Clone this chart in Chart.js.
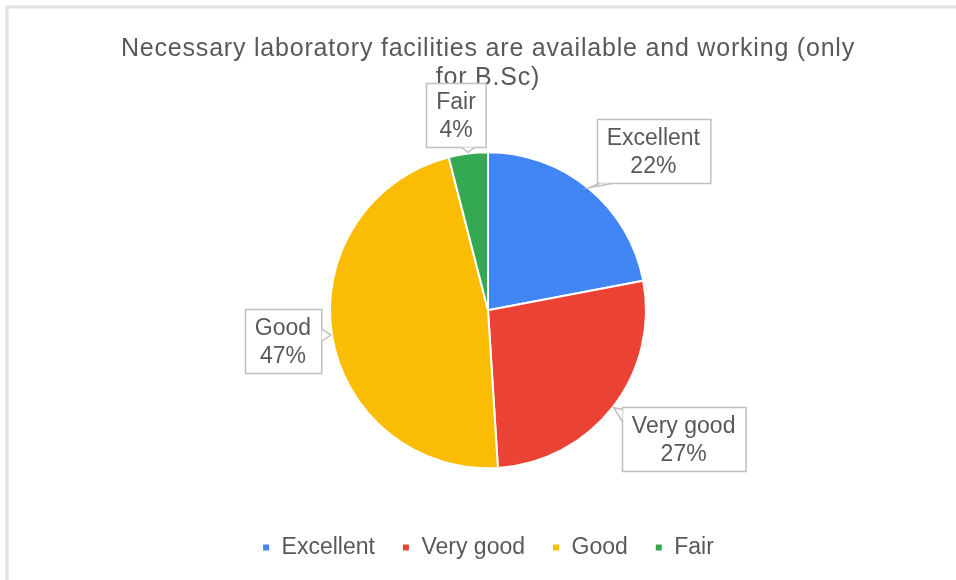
<!DOCTYPE html>
<html>
<head>
<meta charset="utf-8">
<title>Laboratory facilities</title>
<script src="https://cdn.jsdelivr.net/npm/chart.js@4"></script>
<style>
  html, body { margin: 0; padding: 0; background: #fff; }
  #wrap { width: 956px; height: 580px; position: relative; }
</style>
</head>
<body>
<div id="wrap"><canvas id="pie" width="956" height="580"></canvas></div>
<script>
const categories = ['Excellent', 'Very good', 'Good', 'Fair'];
const shares = [22, 27, 47, 4];
const sliceColors = ['#4285F4', '#EA4335', '#FBBC04', '#34A853'];
const titleLines = ['Necessary laboratory facilities are available and working (only', 'for B.Sc)'];

// where each callout box sits, relative to the slice edge point
const calloutOffsets = [[64, -37], [70, 31], [-48, 6], [-12, -38]];

const textColor = '#595959';
const fontFamily = '"Liberation Sans", Arial, sans-serif';

// light frame round the chart, like the screenshot
const framePlugin = {
    id: 'frame',
    beforeDraw(chart) {
        const ctx = chart.ctx;
        ctx.save();
        ctx.fillStyle = '#ffffff';
        ctx.fillRect(0, 0, chart.width, chart.height);
        ctx.strokeStyle = '#e2e2e2';
        ctx.lineWidth = 3;
        ctx.beginPath();
        ctx.moveTo(7, chart.height + 5);
        ctx.lineTo(7, 7);
        ctx.lineTo(chart.width + 5, 7);
        ctx.stroke();
        ctx.restore();

        // the title in the picture is set a little wider than the font
        const tb = chart.titleBlock;
        if (tb && !tb._spaced) {
            const orig = tb.draw.bind(tb);
            tb.draw = function () {
                chart.ctx.save();
                chart.ctx.letterSpacing = '0.8px';
                orig();
                chart.ctx.restore();
            };
            tb._spaced = true;
        }
    }
};

// Excel-style data callouts: name + percent in a box with a small pointer
const calloutPlugin = {
    id: 'callouts',
    afterDatasetsDraw(chart) {
        const ctx = chart.ctx;
        const meta = chart.getDatasetMeta(0);
        const total = shares.reduce((a, b) => a + b, 0);
        const lineH = 28;
        ctx.save();
        ctx.font = '23px ' + fontFamily;
        ctx.textAlign = 'center';
        ctx.textBaseline = 'middle';

        meta.data.forEach((arc, i) => {
            const p = arc.getProps(['x', 'y', 'startAngle', 'endAngle', 'outerRadius'], true);
            const mid = (p.startAngle + p.endAngle) / 2;
            const ax = p.x + Math.cos(mid) * (p.outerRadius + 1);
            const ay = p.y + Math.sin(mid) * (p.outerRadius + 1);

            const lines = [categories[i], Math.round(shares[i] / total * 100) + '%'];
            const w = Math.max(...lines.map(t => ctx.measureText(t).width)) + 20;
            const h = lines.length * lineH + 8;
            const cx = ax + calloutOffsets[i][0];
            const cy = ay + calloutOffsets[i][1];
            const left = Math.round(cx - w / 2) + 0.5, top = Math.round(cy - h / 2) + 0.5;
            const right = left + w, bottom = top + h;

            ctx.fillStyle = '#ffffff';
            ctx.fillRect(left, top, w, h);
            ctx.strokeStyle = '#bfbfbf';
            ctx.lineWidth = 1.5;
            ctx.strokeRect(left, top, w, h);

            // pointer from the nearest box edge to the slice
            let b1, b2;
            const half = 6;
            if (ay > bottom || ay < top) {
                const ey = ay > bottom ? bottom : top;
                const ex = Math.min(Math.max(ax, left + half + 2), right - half - 2);
                b1 = [ex - half, ey]; b2 = [ex + half, ey];
            } else {
                const ex = ax < left ? left : right;
                const ey = Math.min(Math.max(ay, top + half + 2), bottom - half - 2);
                b1 = [ex, ey - half]; b2 = [ex, ey + half];
            }
            ctx.beginPath();
            ctx.moveTo(b1[0], b1[1]);
            ctx.lineTo(ax, ay);
            ctx.lineTo(b2[0], b2[1]);
            ctx.closePath();
            ctx.fillStyle = '#ffffff';
            ctx.fill();
            ctx.beginPath();
            ctx.moveTo(b1[0], b1[1]);
            ctx.lineTo(ax, ay);
            ctx.lineTo(b2[0], b2[1]);
            ctx.stroke();

            ctx.fillStyle = textColor;
            lines.forEach((t, k) => {
                ctx.fillText(t, cx, top + 4 + lineH * k + lineH / 2 + 1);
            });
        });
        ctx.restore();
    }
};

new Chart(document.getElementById('pie'), {
    type: 'pie',
    data: {
        labels: categories,
        datasets: [{
            data: shares,
            backgroundColor: sliceColors,
            borderColor: '#ffffff',
            borderWidth: 2,
            radius: 158
        }]
    },
    options: {
        responsive: false,
        animation: false,
        layout: { padding: { left: 20, bottom: 11 } },
        plugins: {
            title: {
                display: true,
                text: titleLines,
                color: textColor,
                font: { family: fontFamily, size: 25, weight: 'normal', lineHeight: 1.15 },
                padding: { top: 35, bottom: 19 }
            },
            legend: {
                position: 'bottom',
                labels: {
                    color: textColor,
                    font: { family: fontFamily, size: 23 },
                    usePointStyle: true,
                    pointStyle: 'rect',
                    boxWidth: 8,
                    boxHeight: 8,
                    padding: 27
                }
            },
            tooltip: { enabled: false }
        }
    },
    plugins: [framePlugin, calloutPlugin]
});
</script>
</body>
</html>
